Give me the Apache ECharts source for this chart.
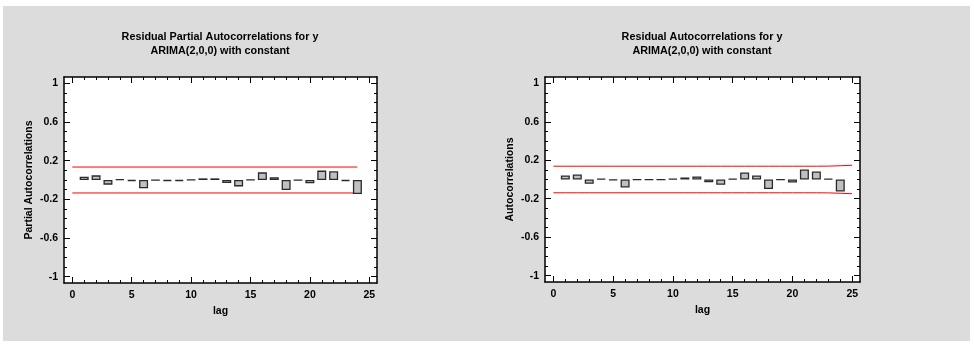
<!DOCTYPE html>
<html>
<head>
<meta charset="utf-8">
<script src="https://cdn.jsdelivr.net/npm/echarts@6/dist/echarts.min.js"></script>
</head>
<body style="margin:0;background:#fff">
<div id="container" style="width:974px;height:346px"></div>
<script type="text/javascript">
    // residual correlations by lag
    var lags = [1, 2, 3, 4, 5, 6, 7, 8, 9, 10, 11, 12, 13, 14, 15, 16, 17, 18, 19, 20, 21, 22, 23, 24];
    var pacf = [0.034, 0.048, -0.048, 0.007, -0.01, -0.086, -0.003, -0.01, -0.01, 0.004, 0.017, 0.017,
                -0.031, -0.066, 0.004, 0.079, 0.028, -0.103, -0.003, -0.034, 0.097, 0.09, -0.01, -0.145];
    var acf = [0.042, 0.052, -0.045, 0.007, -0.007, -0.083, -0.003, -0.003, -0.001, 0.007, 0.021, 0.031,
               -0.028, -0.055, 0.007, 0.073, 0.042, -0.1, -0.003, -0.031, 0.104, 0.083, 0.007, -0.125];
    // 95% limits
    var pacfLimitLags = [0, 24];
    var pacfLimit = [0.134, 0.134];
    var acfLimitLags = [0, 1, 2, 3, 4, 5, 6, 7, 8, 9, 10, 11, 12, 13, 14, 15, 16, 17, 18, 19, 20, 21, 22, 23, 24, 25];
    var acfLimit = [0.138, 0.138, 0.138, 0.138, 0.138, 0.138, 0.138, 0.138, 0.138, 0.138, 0.138, 0.138, 0.138,
                    0.138, 0.138, 0.138, 0.138, 0.138, 0.138, 0.138, 0.138, 0.138, 0.138, 0.139, 0.143, 0.148];
    var xMajor = [0, 5, 10, 15, 20, 25];
    var xMinor = [0, 1, 2, 3, 4, 5, 6, 7, 8, 9, 10, 11, 12, 13, 14, 15, 16, 17, 18, 19, 20, 21, 22, 23, 24, 25];
    var yMajor = [-1, -0.6, -0.2, 0.2, 0.6, 1];
    var yMinor = [-1, -0.9, -0.8, -0.7, -0.6, -0.5, -0.4, -0.3, -0.2, -0.1, 0, 0.1, 0.2, 0.3, 0.4, 0.5, 0.6, 0.7, 0.8, 0.9, 1];

    var titles = [
        ['Residual Partial Autocorrelations for y', 'ARIMA(2,0,0) with constant'],
        ['Residual Autocorrelations for y', 'ARIMA(2,0,0) with constant']
    ];
    var yNames = ['Partial Autocorrelations', 'Autocorrelations'];

    var font = 'Liberation Sans, Arial, sans-serif';
    var grids = [
        {left: 64, top: 77, width: 313, height: 206},
        {left: 545, top: 77, width: 315, height: 205}
    ];

    var xAxes = [], yAxes = [];
    function addAxes(g) {
        var base = xAxes.length;
        var sides = ['bottom', 'bottom', 'top', 'top'];
        for (var i = 0; i < 4; i++) {
            var major = i % 2 === 0;
            xAxes.push({
                type: 'value', gridIndex: g, position: sides[i], min: -0.7, max: 25.65,
                axisLine: {show: major, onZero: false, lineStyle: {color: '#000', width: 1.5}},
                axisTick: {show: true, inside: true, length: major ? 6 : 3, customValues: major ? xMajor : xMinor,
                    lineStyle: {color: '#000', width: 1}},
                axisLabel: i === 0 ? {show: true, customValues: xMajor, margin: 7, color: '#000',
                    fontWeight: 'bold', fontSize: 10.5, fontFamily: font} : {show: false},
                splitLine: {show: false},
                name: i === 0 ? 'lag' : '', nameLocation: 'middle', nameGap: 21,
                nameTextStyle: {color: '#000', fontWeight: 'bold', fontSize: 10.5, fontFamily: font}
            });
        }
        var ysides = ['left', 'left', 'right', 'right'];
        for (var j = 0; j < 4; j++) {
            var ymaj = j % 2 === 0;
            yAxes.push({
                type: 'value', gridIndex: g, position: ysides[j], min: -1.065, max: 1.065,
                axisLine: {show: ymaj, onZero: false, lineStyle: {color: '#000', width: 1.5}},
                axisTick: {show: true, inside: true, length: ymaj ? 6 : 3, customValues: ymaj ? yMajor : yMinor,
                    lineStyle: {color: '#000', width: 1}},
                axisLabel: j === 0 ? {show: true, customValues: yMajor, margin: 6, color: '#000',
                    fontWeight: 'bold', fontSize: 10.5, fontFamily: font} : {show: false},
                splitLine: {show: false},
                name: j === 0 ? yNames[g] : '', nameLocation: 'middle', nameGap: 29,
                nameTextStyle: {color: '#000', fontWeight: 'bold', fontSize: 10.5, fontFamily: font}
            });
        }
        return base;
    }
    var b0 = addAxes(0), b1 = addAxes(1);

    function pairs(xs, ys, sign) {
        return xs.map(function (x, i) { return [x, sign * ys[i]]; });
    }
    function bars(vals, ax) {
        return {
            type: 'bar', xAxisIndex: ax, yAxisIndex: ax, barWidth: 9,
            data: pairs(lags, vals, 1),
            itemStyle: {color: '#c0c0c0', borderColor: '#2a2a2a', borderWidth: 1.3},
            animation: false, z: 3
        };
    }
    function limit(xs, ys, sign, ax) {
        return {
            type: 'line', xAxisIndex: ax, yAxisIndex: ax, data: pairs(xs, ys, sign),
            symbol: 'none', lineStyle: {color: '#ff0000', width: 1}, animation: false, z: 2
        };
    }

    var graphics = [{type: 'rect', z: -100, shape: {x: 3, y: 6, width: 967, height: 335}, style: {fill: '#dcdcdc'}}];
    var centers = [220, 702];
    titles.forEach(function (t, k) {
        t.forEach(function (line, n) {
            graphics.push({
                type: 'text', x: centers[k], y: 37 + n * 14, z: 10,
                style: {text: line, textAlign: 'center', textVerticalAlign: 'middle', fill: '#000',
                    font: 'bold 10.8px ' + font}
            });
        });
    });

    var myChart = echarts.init(document.getElementById('container'));
    var option = {
        backgroundColor: '#fff',
        animation: false,
        graphic: {elements: graphics},
        grid: grids.map(function (g) {
            return {left: g.left, top: g.top, width: g.width, height: g.height, show: true,
                backgroundColor: '#fff', borderWidth: 0};
        }),
        xAxis: xAxes,
        yAxis: yAxes,
        series: [
            bars(pacf, b0),
            limit(pacfLimitLags, pacfLimit, 1, b0),
            limit(pacfLimitLags, pacfLimit, -1, b0),
            bars(acf, b1),
            limit(acfLimitLags, acfLimit, 1, b1),
            limit(acfLimitLags, acfLimit, -1, b1)
        ]
    };
    myChart.setOption(option);
</script>
</body>
</html>
